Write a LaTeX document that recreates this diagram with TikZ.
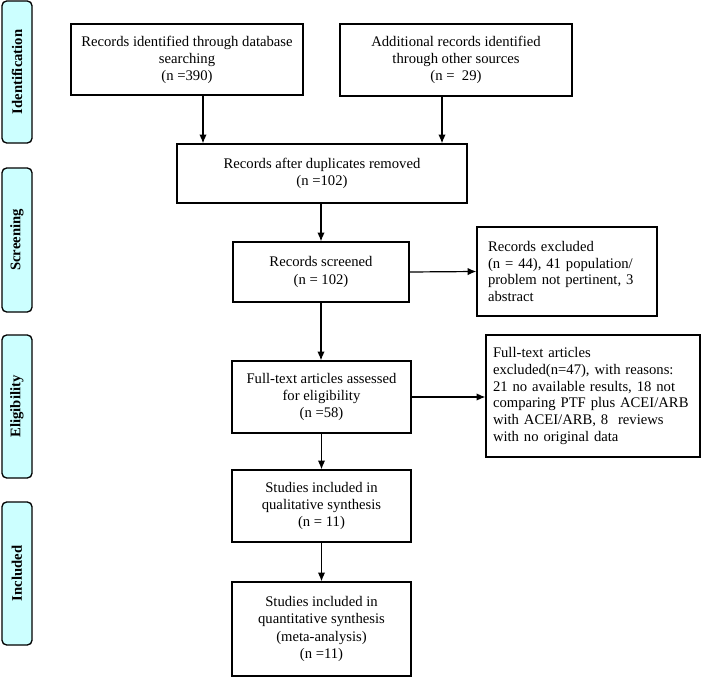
\documentclass[tikz,border=0pt]{standalone}
\usepackage{fontspec}
\setmainfont{Liberation Serif}
\usetikzlibrary{arrows.meta,calc}
\definecolor{sidefill}{RGB}{204,255,255}
\begin{document}
\begin{tikzpicture}[x=0.75pt,y=-0.75pt,
  sz/.style 2 args={minimum width={#1*0.75pt}, minimum height={#2*0.75pt}},
  box/.style={draw, line width=1pt, inner sep=2pt, align=center,
    font=\fontsize{11}{12.8}\selectfont},
  lbox/.style={draw, line width=1pt, inner ysep=2pt, align=left,
    font=\fontsize{11}{12.5}\selectfont},
  side/.style={draw, line width=1pt, rounded corners=3.5pt, fill=sidefill,
    rotate=90, inner sep=1pt, font=\fontsize{11}{12}\selectfont\bfseries},
  arr/.style={-{Latex[length=6.5pt,width=5.5pt]}, line width=0.9pt}]
\useasboundingbox (0,0) rectangle (701,678);

% phase labels
\node[side, sz={142}{30}] (sid) at (17,72) {Identification};
\node[side, sz={144}{30}] (sscr) at (17,240) {Screening};
\node[side, sz={143}{30}] (sel) at (17,406.5) {Eligibility};
\node[side, sz={143}{30}] (sinc) at (17,573.5) {Included};

% boxes
\node[box, sz={232}{71}] (b1) at (187,59.5)
  {Records identified through database\\searching\\(n =390)};
\node[box, sz={232}{72}] (b2) at (456,60)
  {Additional records identified\\through other sources\\(n =\ \ 29)};
\node[box, sz={290}{59}] (dup) at (322,173.5)
  {Records after duplicates removed\\(n =102)};
\node[box, sz={176}{60}] (scr) at (321,272)
  {Records screened\\(n = 102)};
\node[lbox, sz={180}{89}, inner xsep={11*0.75pt}, text width={158*0.75pt}] (excl) at (567,271.5)
  {Records excluded\\(n = 44), 41 population/\\problem not pertinent, 3\\abstract};
\node[lbox, sz={214}{122}, inner xsep={7*0.75pt}, text width={200*0.75pt}] (fexcl) at (593,396)
  {Full-text articles\\excluded(n=47), with reasons:\\21 no available results, 18 not\\comparing PTF plus ACEI/ARB\\with ACEI/ARB, 8\ \ reviews\\with no original data};
\node[box, sz={179}{72}] (full) at (321.5,397)
  {Full-text articles assessed\\for eligibility\\(n =58)};
\node[box, sz={179}{72}] (qual) at (321.5,506)
  {Studies included in\\qualitative synthesis\\(n = 11)};
\node[box, sz={179}{94}] (quant) at (321.5,629)
  {Studies included in\\quantitative synthesis\\(meta-analysis)\\(n =11)};

% connectors
\draw[arr] ([xshift={16*0.75pt}]b1.south) -- ([xshift={16*0.75pt}]b1.south |- dup.north);
\draw[arr] ([xshift={-14*0.75pt}]b2.south) -- ([xshift={-14*0.75pt}]b2.south |- dup.north);
\draw[arr] (dup.south -| scr.north) -- (scr.north);
\draw[arr] (scr.south) -- (scr.south |- full.north);
\draw[arr] (full.south) -- (qual.north);
\draw[arr] (qual.south) -- (quant.north);
\draw[arr] (scr.east) -- (excl.west);
\draw[arr] (full.east) -- (full.east -| fexcl.west);
\end{tikzpicture}
\end{document}
